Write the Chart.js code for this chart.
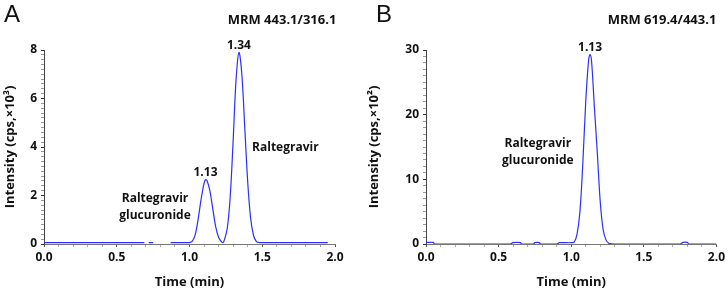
<!DOCTYPE html>
<html>
<head>
<meta charset="utf-8">
<script src="https://cdn.jsdelivr.net/npm/chart.js@4.4.1/dist/chart.umd.min.js"></script>
<style>
  body { margin: 0; background: #fff; }
  #wrap { position: relative; width: 728px; height: 290px; font-family: "Open Sans", sans-serif; }
  .panel { position: absolute; top: 0; width: 364px; height: 290px; }
  .letter { position: absolute; top: 0; font-family: "Liberation Sans", Arial, sans-serif; font-size: 24px; color: #111; }
  .mrm { position: absolute; top: 10px; font-weight: bold; font-size: 13px; color: #111; transform: translateX(-50%); white-space: nowrap; }
</style>
</head>
<body>
<div id="wrap">
  <div class="panel" style="left:0"><canvas id="chartA" width="364" height="290"></canvas></div>
  <div class="panel" style="left:364px"><canvas id="chartB" width="364" height="290"></canvas></div>
  <div class="letter" style="left:4px">A</div>
  <div class="letter" style="left:376px">B</div>
  <div class="mrm" style="left:282px">MRM 443.1/316.1</div>
  <div class="mrm" style="left:662px">MRM 619.4/443.1</div>
</div>
<script>
// Panel A: MRM 443.1/316.1 (intensity x10^3)
const timeA = [0.00, 0.10, 0.20, 0.30, 0.40, 0.50, 0.60, 0.69, 0.70, 0.72, 0.75, 0.76, 0.87, 0.95,
  1.00, 1.02, 1.04, 1.06, 1.08, 1.10, 1.11, 1.12, 1.14, 1.16, 1.18, 1.20, 1.22, 1.23, 1.24,
  1.26, 1.28, 1.30, 1.32, 1.34, 1.36, 1.38, 1.40, 1.42, 1.44, 1.46, 1.48, 1.50, 1.60, 1.70, 1.80, 1.95];
const intensityA = [0.06, 0.06, 0.06, 0.06, 0.06, 0.06, 0.06, 0.06, null, 0.06, 0.06, null, 0.06, 0.06,
  0.06, 0.12, 0.4, 1.05, 1.85, 2.5, 2.65, 2.62, 2.2, 1.45, 0.72, 0.28, 0.09, 0.06, 0.17,
  0.67, 1.97, 4.26, 6.77, 7.9, 6.97, 4.79, 2.57, 1.07, 0.35, 0.1, 0.06, 0.06, 0.06, 0.06, 0.06, 0.06];

// Panel B: MRM 619.4/443.1 (intensity x10^2)
const timeB = [0.00, 0.02, 0.05, 0.06, 0.58, 0.60, 0.65, 0.66, 0.74, 0.75, 0.78, 0.79, 0.90, 0.92,
  1.00, 1.02, 1.04, 1.06, 1.08, 1.10, 1.12, 1.13, 1.14, 1.16, 1.18, 1.20, 1.22, 1.24, 1.26, 1.30,
  1.75, 1.77, 1.80, 1.81, 2.00];
const intensityB = [0.25, 0.25, 0.25, 0, 0, 0.2, 0.2, 0, 0, 0.2, 0.2, 0, 0, 0.2,
  0.2, 0.3, 1.5, 5.0, 12.5, 22, 28.5, 29.3, 28.3, 21, 14, 6.5, 2.2, 0.6, 0.1, 0,
  0, 0.25, 0.25, 0, 0];

const notesA = [
  { text: '1.34', x: 1.34, y: 7.9, peak: true },
  { text: '1.13', x: 1.11, y: 2.65, peak: true },
  { text: 'Raltegravir', x: 1.43, y: 3.98, align: 'left' },
  { text: 'Raltegravir', x: 0.763, y: 1.87 },
  { text: 'glucuronide', x: 0.763, y: 1.17 },
];
const notesB = [
  { text: '1.13', x: 1.13, y: 29.3, peak: true },
  { text: 'Raltegravir', x: 0.77, y: 15.6 },
  { text: 'glucuronide', x: 0.77, y: 12.9 },
];

const tickFont = { family: 'Open Sans', size: 12, weight: 'bold' };
const titleFont = { family: 'Open Sans', size: 13, weight: 'bold' };

function isMultiple(v, step) {
    return Math.abs(v - Math.round(v / step) * step) < 1e-6;
}

// draws peak labels and compound names at data positions
const notePlugin = {
    id: 'notes',
    afterDatasetsDraw(chart, args, opts) {
        const ctx = chart.ctx;
        const xs = chart.scales.x, ys = chart.scales.y;
        ctx.save();
        ctx.fillStyle = '#111';
        ctx.font = 'bold 12px "Open Sans"';
        opts.items.forEach(function (n) {
            const px = xs.getPixelForValue(n.x);
            let py = ys.getPixelForValue(n.y);
            ctx.textAlign = n.align || 'center';
            if (n.peak) {
                ctx.textBaseline = 'bottom';
                py -= 1;
            } else {
                ctx.textBaseline = 'middle';
            }
            ctx.fillText(n.text, px, py);
        });
        ctx.restore();
    }
};

function buildChart(id, times, values, yMax, yStep, yMajor, yTitle, yWidth, padRight, notes) {
    return new Chart(document.getElementById(id), {
        type: 'line',
        data: {
            datasets: [{
                data: times.map((t, i) => ({ x: t, y: values[i] })),
                borderColor: 'rgb(45,45,255)',
                borderWidth: 1.2,
                pointRadius: 0,
                tension: 0.35,
                spanGaps: false,
            }]
        },
        options: {
            responsive: false,
            animation: false,
            layout: { padding: { top: 50, right: padRight, left: 0, bottom: 0 } },
            plugins: {
                legend: { display: false },
                tooltip: { enabled: false },
                notes: { items: notes },
            },
            scales: {
                x: {
                    type: 'linear',
                    min: 0,
                    max: 2,
                    z: 1,
                    afterFit: function (s) { s.height = 46; },
                    ticks: {
                        stepSize: 0.1,
                        autoSkip: false,
                        maxRotation: 0,
                        padding: 3,
                        color: '#111',
                        font: tickFont,
                        callback: v => isMultiple(v, 0.5) ? v.toFixed(1) : '',
                    },
                    grid: {
                        drawOnChartArea: false,
                        tickLength: 3,
                        tickColor: c => isMultiple(c.tick.value, 0.5) ? '#555' : '#aaa',
                    },
                    border: { color: '#777', width: 1 },
                    title: {
                        display: true,
                        text: 'Time (min)',
                        color: '#111',
                        font: titleFont,
                        padding: { top: 2, bottom: 0 },
                    },
                },
                y: {
                    min: 0,
                    max: yMax,
                    z: 1,
                    afterFit: function (s) { s.width = yWidth; },
                    ticks: {
                        stepSize: yStep,
                        autoSkip: false,
                        padding: 4,
                        color: '#111',
                        font: tickFont,
                        callback: v => isMultiple(v, yMajor) ? Math.round(v) : '',
                    },
                    grid: {
                        drawOnChartArea: false,
                        tickLength: 3,
                        tickColor: c => isMultiple(c.tick.value, yMajor) ? '#333' : '#999',
                    },
                    border: { color: '#444', width: 1 },
                    title: {
                        display: true,
                        text: yTitle,
                        color: '#111',
                        font: titleFont,
                        padding: { top: 2, bottom: 2 },
                    },
                },
            },
        },
        plugins: [notePlugin],
    });
}

buildChart('chartA', timeA, intensityA, 8, 0.2, 2, 'Intensity (cps,\u00d710\u00b3)', 44, 29, notesA);
buildChart('chartB', timeB, intensityB, 30, 1, 10, 'Intensity (cps,\u00d710\u00b2)', 62, 11, notesB);
</script>
</body>
</html>
